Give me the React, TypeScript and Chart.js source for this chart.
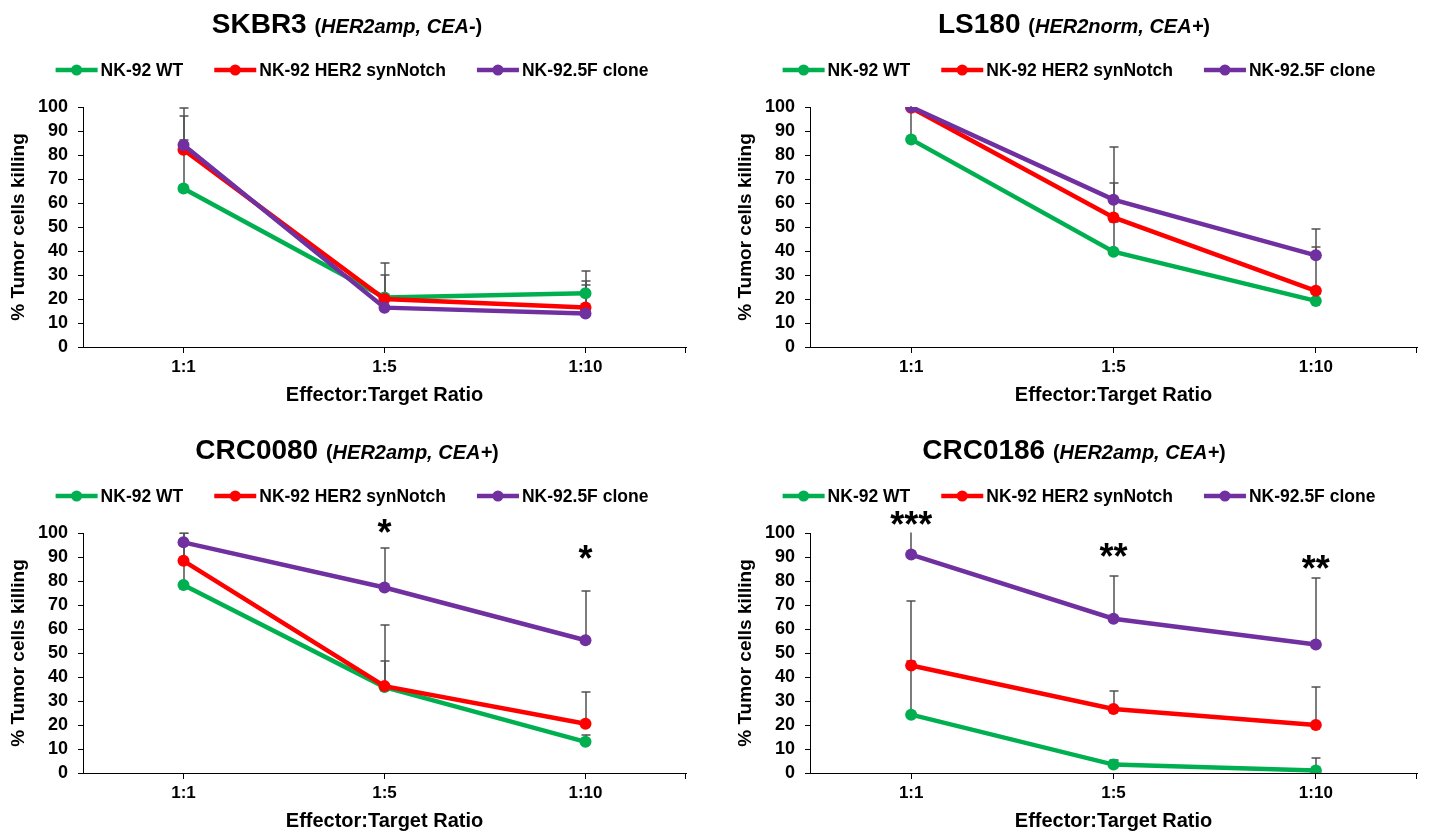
import React, { useEffect, useRef } from "react";
import { Chart, registerables } from "chart.js";

Chart.register(...registerables);

const FONT = "'Liberation Sans', Arial, Helvetica, sans-serif";

// ---------- shared labels ----------
const categories = ["1:1", "1:5", "1:10"];
const seriesNames = ["NK-92 WT", "NK-92 HER2 synNotch", "NK-92.5F clone"];
const seriesColors = ["#00B050", "#FF0000", "#7030A0"];
const yAxisTitle = "% Tumor cells killing";
const xAxisTitle = "Effector:Target Ratio";
const yMin = 0;
const yMax = 100;
const yStep = 10;

// ---------- SKBR3 ----------
const skbr3Title = "SKBR3";
const skbr3Sub = "HER2amp, CEA-";
const skbr3Wt = [66.0, 20.6, 22.4];
const skbr3Syn = [82.2, 20.0, 16.5];
const skbr3Clone = [84.2, 16.4, 14.0];
const skbr3WtErr = [33.4, 14.5, 9.1];
const skbr3SynErr = [14.2, 1.5, 11.1];
const skbr3CloneErr = [2.0, 13.4, 11.9];
const skbr3Stars = ["", "", ""];
const skbr3StarAt = [0, 0, 0];

// ---------- LS180 ----------
const ls180Title = "LS180";
const ls180Sub = "HER2norm, CEA+";
const ls180Wt = [86.5, 39.7, 19.2];
const ls180Syn = [99.7, 54.0, 23.4];
const ls180Clone = [100.0, 61.4, 38.2];
const ls180WtErr = [16.0, 12.5, 3.0];
const ls180SynErr = [3.0, 14.2, 18.3];
const ls180CloneErr = [2.0, 21.9, 11.0];
const ls180Stars = ["", "", ""];
const ls180StarAt = [0, 0, 0];

// ---------- CRC0080 ----------
const crc0080Title = "CRC0080";
const crc0080Sub = "HER2amp, CEA+";
const crc0080Wt = [78.3, 35.8, 13.0];
const crc0080Syn = [88.4, 36.2, 20.5];
const crc0080Clone = [96.1, 77.3, 55.3];
const crc0080WtErr = [21.7, 10.7, 3.0];
const crc0080SynErr = [8.0, 25.5, 13.3];
const crc0080CloneErr = [4.0, 16.4, 20.6];
const crc0080Stars = ["", "*", "*"];
const crc0080StarAt = [0, 103.6, 92.8];

// ---------- CRC0186 ----------
const crc0186Title = "CRC0186";
const crc0186Sub = "HER2amp, CEA+";
const crc0186Wt = [24.3, 3.5, 1.0];
const crc0186Syn = [44.8, 26.7, 20.0];
const crc0186Clone = [91.0, 64.3, 53.5];
const crc0186WtErr = [47.5, 2.0, 5.4];
const crc0186SynErr = [2.0, 7.4, 15.9];
const crc0186CloneErr = [12.0, 17.8, 27.7];
const crc0186Stars = ["***", "**", "**"];
const crc0186StarAt = [106.8, 93.5, 88.4];

// ---------- plugins ----------
const errorBarPlugin = {
  id: "errorBars",
  beforeDatasetsDraw(chart: any, _args: any, opts: any) {
    const { ctx, chartArea, scales } = chart;
    const x = scales.x;
    const y = scales.y;
    ctx.save();
    ctx.beginPath();
    ctx.rect(chartArea.left, chartArea.top - 0.5, chartArea.right - chartArea.left, chartArea.bottom - chartArea.top + 1);
    ctx.clip();
    ctx.strokeStyle = opts.color;
    ctx.lineWidth = opts.lineWidth;
    (opts.errors as number[][]).forEach((errs, di) => {
      const vals = chart.data.datasets[di].data as number[];
      errs.forEach((e, i) => {
        const px = Math.round(x.getPixelForValue(i));
        const y0 = y.getPixelForValue(vals[i]);
        const y1 = Math.round(y.getPixelForValue(vals[i] + e));
        ctx.beginPath();
        ctx.moveTo(px, y0);
        ctx.lineTo(px, y1);
        ctx.moveTo(px - opts.cap, y1);
        ctx.lineTo(px + opts.cap, y1);
        ctx.stroke();
      });
    });
    ctx.restore();
  },
};

const starPlugin = {
  id: "stars",
  afterDatasetsDraw(chart: any, _args: any, opts: any) {
    const { ctx, scales } = chart;
    const size = opts.size;
    ctx.save();
    ctx.font = `bold ${size}px ${FONT}`;
    ctx.fillStyle = "#000";
    ctx.textAlign = "center";
    ctx.textBaseline = "alphabetic";
    (opts.stars as string[]).forEach((s, i) => {
      if (!s) return;
      const px = scales.x.getPixelForValue(i);
      const cy = scales.y.getPixelForValue(opts.at[i]);
      ctx.fillText(s, px, cy + size * 0.57);
    });
    ctx.restore();
  },
};

const headerPlugin = {
  id: "header",
  afterDraw(chart: any, _args: any, opts: any) {
    const { ctx, chartArea } = chart;
    ctx.save();
    // Title with mixed styling
    const pieces = [
      { text: opts.name + " ", font: `bold 28px ${FONT}` },
      { text: "(", font: `bold 20px ${FONT}` },
      { text: opts.sub, font: `italic bold 20px ${FONT}` },
      { text: ")", font: `bold 20px ${FONT}` },
    ];
    let total = 0;
    const widths = pieces.map((p) => {
      ctx.font = p.font;
      const w = ctx.measureText(p.text).width;
      total += w;
      return w;
    });
    let tx = opts.titleCenterX - total / 2;
    ctx.fillStyle = "#000";
    ctx.textBaseline = "alphabetic";
    ctx.textAlign = "left";
    pieces.forEach((p, i) => {
      ctx.font = p.font;
      ctx.fillText(p.text, tx, opts.titleBaseline);
      tx += widths[i];
    });

    // Legend: line with marker, then label
    ctx.font = `bold 17.5px ${FONT}`;
    const lineW = 42;
    const textGap = 3;
    const itemGap = 31;
    const textWidths = seriesNames.map((n) => ctx.measureText(n).width);
    const legendTotal =
      textWidths.reduce((a, b) => a + b, 0) + seriesNames.length * (lineW + textGap) + itemGap * (seriesNames.length - 1);
    let lx = opts.legendCenterX - legendTotal / 2;
    const ly = opts.legendY;
    ctx.textBaseline = "middle";
    seriesNames.forEach((n, i) => {
      ctx.strokeStyle = seriesColors[i];
      ctx.fillStyle = seriesColors[i];
      ctx.lineWidth = 4.5;
      ctx.beginPath();
      ctx.moveTo(lx, ly);
      ctx.lineTo(lx + lineW, ly);
      ctx.stroke();
      ctx.beginPath();
      ctx.arc(lx + lineW / 2, ly, 5.5, 0, Math.PI * 2);
      ctx.fill();
      ctx.fillStyle = "#000";
      ctx.fillText(n, lx + lineW + textGap, ly + 1);
      lx += lineW + textGap + textWidths[i] + itemGap;
    });

    // closing tick at the right end of the category axis
    ctx.strokeStyle = "#000";
    ctx.lineWidth = 1;
    ctx.beginPath();
    const rx = Math.round(chartArea.right) - 0.5;
    ctx.moveTo(rx, chartArea.bottom);
    ctx.lineTo(rx, chartArea.bottom + 6);
    ctx.stroke();
    ctx.restore();
  },
};

type PanelProps = {
  name: string;
  sub: string;
  values: number[][];
  errors: number[][];
  stars: string[];
  starAt: number[];
  left: number;
  top: number;
  width: number;
  height: number;
  padRight: number;
};

function Panel(props: PanelProps) {
  const ref = useRef<HTMLCanvasElement>(null);
  useEffect(() => {
    const canvas = ref.current;
    if (!canvas) return;
    const chart = new Chart(canvas, {
      type: "line",
      data: {
        labels: categories,
        datasets: seriesNames.map((n, i) => ({
          label: n,
          data: props.values[i],
          borderColor: seriesColors[i],
          backgroundColor: seriesColors[i],
          pointBackgroundColor: seriesColors[i],
          pointBorderColor: seriesColors[i],
          borderWidth: 4.5,
          pointRadius: 6,
          pointHoverRadius: 6,
          pointBorderWidth: 0,
          tension: 0,
          order: seriesNames.length - 1 - i,
        })),
      },
      options: {
        animation: false,
        responsive: false,
        events: [],
        layout: { padding: { top: 107, left: 0, right: props.padRight, bottom: 0 } },
        scales: {
          x: {
            type: "category",
            offset: true,
            grid: { drawOnChartArea: false, drawTicks: true, tickLength: 6, offset: false, color: "#000", lineWidth: 1 },
            border: { display: true, color: "#000", width: 1 },
            ticks: { color: "#000", padding: 4, autoSkip: false, maxRotation: 0, font: { family: FONT, size: 17, weight: "bold" } },
            title: {
              display: true,
              text: xAxisTitle,
              color: "#000",
              font: { family: FONT, size: 20, weight: "bold" },
              padding: { top: 0, bottom: 4 },
            },
            afterFit: (scale: any) => {
              scale.height = 64;
            },
          },
          y: {
            min: yMin,
            max: yMax,
            ticks: {
              stepSize: yStep,
              autoSkip: false,
              color: "#000",
              padding: 10,
              font: { family: FONT, size: 18, weight: "bold", lineHeight: 1 },
            },
            grid: { drawOnChartArea: false, drawTicks: true, tickLength: 5, color: "#000", lineWidth: 1 },
            border: { display: true, color: "#000", width: 1 },
            title: {
              display: true,
              text: yAxisTitle,
              color: "#000",
              font: { family: FONT, size: 19, weight: "bold" },
              padding: { top: 7, bottom: 0 },
            },
            afterFit: (scale: any) => {
              scale.width = 83;
            },
          },
        },
        plugins: {
          legend: { display: false },
          tooltip: { enabled: false },
          title: { display: false },
          errorBars: { errors: props.errors, color: "#505050", lineWidth: 1.5, cap: 4.5 },
          stars: { stars: props.stars, at: props.starAt, size: 36 },
          header: { name: props.name, sub: props.sub, titleCenterX: 347, legendCenterX: 352, titleBaseline: 33, legendY: 70 },
        } as any,
      },
      plugins: [errorBarPlugin, starPlugin, headerPlugin],
    });
    return () => chart.destroy();
  }, []);
  return (
    <div style={{ position: "absolute", left: props.left, top: props.top, width: props.width, height: props.height }}>
      <canvas ref={ref} width={props.width} height={props.height} style={{ display: "block" }} />
    </div>
  );
}

export default function App() {
  return (
    <div style={{ position: "absolute", left: 0, top: 0, width: 1429, height: 837, background: "#fff", overflow: "hidden" }}>
      <Panel
        name={skbr3Title}
        sub={skbr3Sub}
        values={[skbr3Wt, skbr3Syn, skbr3Clone]}
        errors={[skbr3WtErr, skbr3SynErr, skbr3CloneErr]}
        stars={skbr3Stars}
        starAt={skbr3StarAt}
        left={0}
        top={0}
        width={714}
        height={411}
        padRight={28}
      />
      <Panel
        name={ls180Title}
        sub={ls180Sub}
        values={[ls180Wt, ls180Syn, ls180Clone]}
        errors={[ls180WtErr, ls180SynErr, ls180CloneErr]}
        stars={ls180Stars}
        starAt={ls180StarAt}
        left={727}
        top={0}
        width={702}
        height={411}
        padRight={12}
      />
      <Panel
        name={crc0080Title}
        sub={crc0080Sub}
        values={[crc0080Wt, crc0080Syn, crc0080Clone]}
        errors={[crc0080WtErr, crc0080SynErr, crc0080CloneErr]}
        stars={crc0080Stars}
        starAt={crc0080StarAt}
        left={0}
        top={426}
        width={714}
        height={411}
        padRight={28}
      />
      <Panel
        name={crc0186Title}
        sub={crc0186Sub}
        values={[crc0186Wt, crc0186Syn, crc0186Clone]}
        errors={[crc0186WtErr, crc0186SynErr, crc0186CloneErr]}
        stars={crc0186Stars}
        starAt={crc0186StarAt}
        left={727}
        top={426}
        width={702}
        height={411}
        padRight={12}
      />
    </div>
  );
}
